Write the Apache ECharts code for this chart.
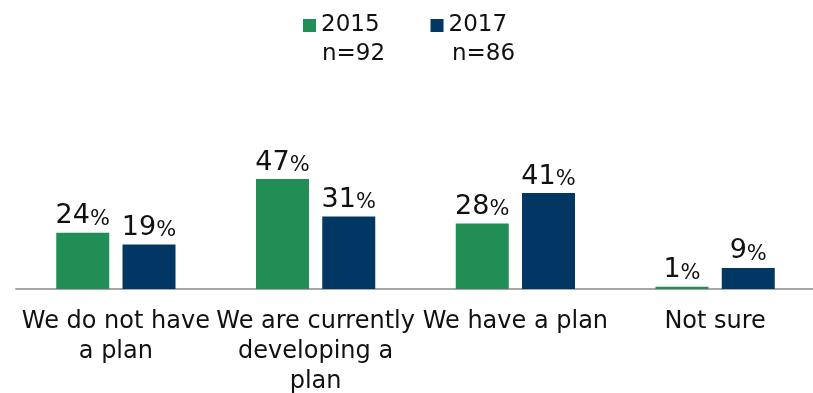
<!DOCTYPE html>
<html>
<head>
<meta charset="utf-8">
<style>
  html, body { margin: 0; padding: 0; background: #ffffff; }
  #chart { width: 813px; height: 393px; }
</style>
<script src="https://cdn.jsdelivr.net/npm/echarts@6/dist/echarts.min.js"></script>
</head>
<body>
<div id="chart"></div>
<script>
// Planning status responses, share of respondents (%)
const categories = [
  'We do not have\na plan',
  'We are currently\ndeveloping a\nplan',
  'We have a plan',
  'Not sure'
];
const seriesNames = ['2015', '2017'];
const sampleSizes = ['n=92', 'n=86'];
const values2015 = [24, 47, 28, 1];
const values2017 = [19, 31, 41, 9];

const FONT = '"DejaVu Sans", Verdana, sans-serif';
const GREEN = '#218f55';
const NAVY = '#023663';

const valueLabel = {
  show: true,
  position: 'top',
  distance: 3,
  formatter: p => '{n|' + p.value + '}{p|%}',
  rich: {
    n: { fontFamily: FONT, fontSize: 27, color: '#111111', verticalAlign: 'bottom' },
    p: { fontFamily: FONT, fontSize: 21, color: '#111111', verticalAlign: 'bottom' }
  }
};

const chart = echarts.init(document.getElementById('chart'), null, { renderer: 'canvas' });
chart.setOption({
  animation: false,
  backgroundColor: '#ffffff',
  legend: {
    left: 303,
    top: 14,
    padding: 0,
    itemWidth: 13,
    itemHeight: 13,
    itemGap: 51,
    icon: 'rect',
    textStyle: { fontFamily: FONT, fontSize: 23, color: '#111111' },
    data: seriesNames
  },
  graphic: [
    { type: 'text', left: 322, top: 43, style: { text: sampleSizes[0], font: '23px ' + FONT, fill: '#111111' } },
    { type: 'text', left: 452, top: 43, style: { text: sampleSizes[1], font: '23px ' + FONT, fill: '#111111' } }
  ],
  grid: {
    left: 16, top: 172, width: 799, height: 117,
    containLabel: false,
    outerBoundsMode: 'none'
  },
  xAxis: {
    type: 'category',
    data: categories,
    axisLine: { show: true, lineStyle: { color: '#a6a6a6', width: 2 } },
    axisTick: { show: false },
    axisLabel: {
      interval: 0,
      margin: 18,
      fontFamily: FONT,
      fontSize: 24,
      lineHeight: 30,
      color: '#111111',
      align: 'center'
    }
  },
  yAxis: {
    type: 'value',
    min: 0,
    max: 50,
    show: false,
    splitLine: { show: false }
  },
  series: [
    {
      name: seriesNames[0],
      type: 'bar',
      data: values2015,
      barWidth: 53,
      barGap: '25%',
      itemStyle: { color: GREEN },
      label: valueLabel
    },
    {
      name: seriesNames[1],
      type: 'bar',
      data: values2017,
      barWidth: 53,
      barGap: '25%',
      itemStyle: { color: NAVY },
      label: valueLabel
    }
  ]
});
</script>
</body>
</html>
